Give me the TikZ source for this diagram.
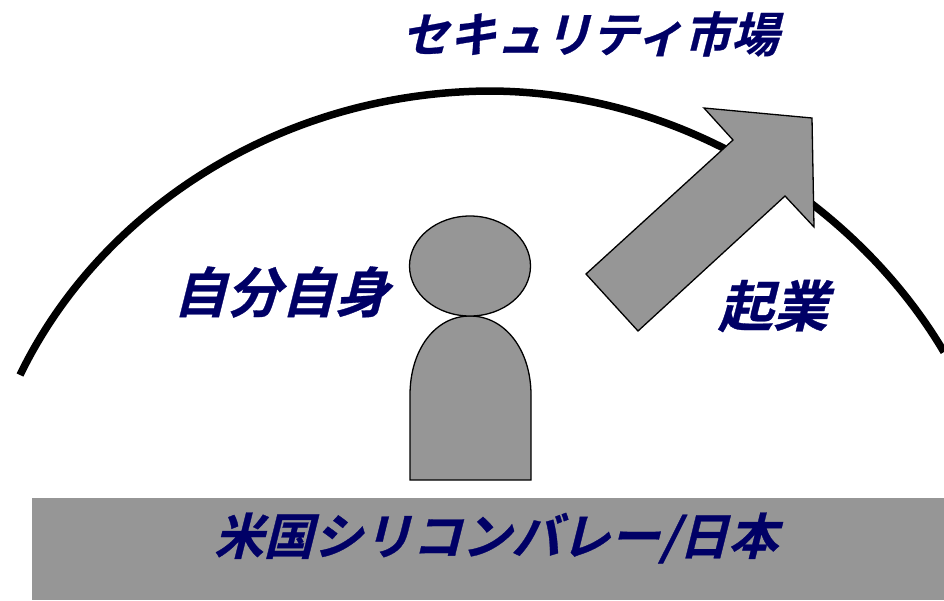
\documentclass[tikz,border=0pt]{standalone}
\usepackage{fontspec}
\newfontfamily\cjk[FakeSlant=0.25,FakeBold=0.6]{Noto Sans CJK JP Bold}
\definecolor{navy}{RGB}{0,0,102}
\definecolor{fillg}{RGB}{150,150,150}
\tikzset{lbl/.style={text=navy,inner sep=0pt},
 shapeg/.style={fill=fillg,draw=black,line width=1.3pt,line join=miter}}
\newcommand{\fsz}[1]{\cjk\fontsize{#1pt}{#1pt}\selectfont}
\begin{document}
\begin{tikzpicture}[x=1pt,y=-1pt]
\useasboundingbox (0,0) rectangle (944,600);
\draw[line width=7.5pt] (20,375) .. controls (100,210) and (280,92) .. (490,91) .. controls (690,92) and (860,210) .. (944,352);
\fill[fillg] (32,498) rectangle (944,600);
\draw[shapeg] (704,108) -- (812,118) -- (814,227) -- (785,196) -- (638,331) -- (586,274) -- (733,140) -- cycle;
\draw[shapeg] (410,480) -- (410,395) .. controls (410,350) and (435,316) .. (470,316) .. controls (505,316) and (531,350) .. (531,395) -- (531,480) -- cycle;
\draw[shapeg] (470,266) ellipse [x radius=60.5, y radius=50];
\node[lbl,font=\fsz{47.5}] (t1) at (590,34) {セキュリティ市場};
\node[lbl,font=\fsz{54}] (t2) at (281,292) {自分自身};
\node[lbl,font=\fsz{55}] (t3) at (773,306) {起業};
\node[lbl,font=\fsz{49.5}] (t4) at (496,538) {米国シリコンバレー/日本};
\end{tikzpicture}
\end{document}
